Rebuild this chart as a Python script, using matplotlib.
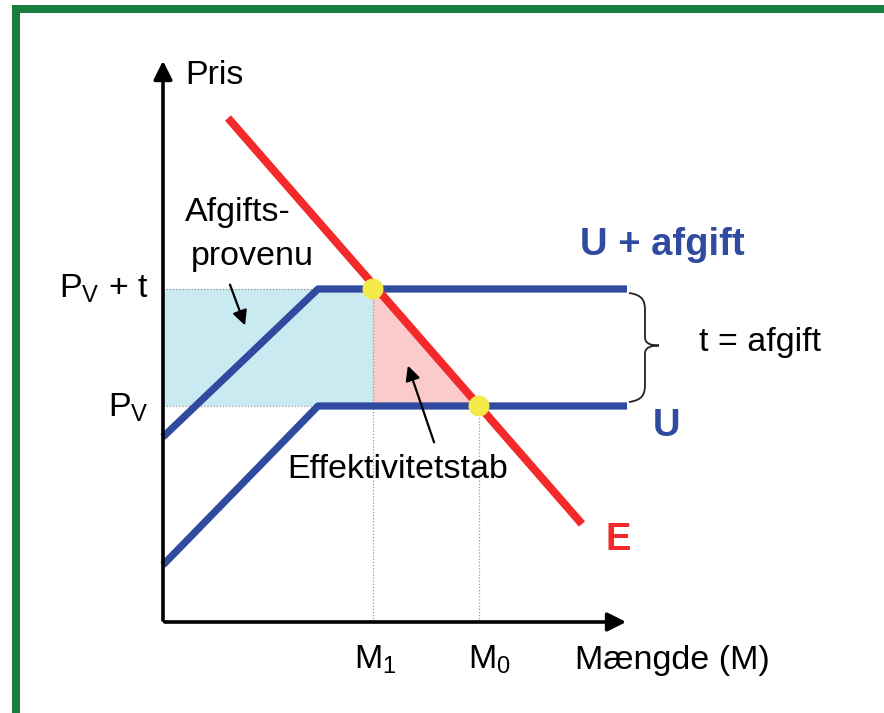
import matplotlib
matplotlib.use("Agg")
import matplotlib.pyplot as plt
import numpy as np
from matplotlib.patches import Rectangle, Polygon, Circle, PathPatch
from matplotlib.path import Path

plt.rcParams['font.family'] = ['Liberation Sans', 'DejaVu Sans']
plt.rcParams['mathtext.fontset'] = 'custom'
plt.rcParams['mathtext.rm'] = 'Liberation Sans'
plt.rcParams['mathtext.it'] = 'Liberation Sans'

# prisniveauer og mængder (aflæst, origo i akse-hjørnet)
pv = 216          # P_V
pv_t = 333        # P_V + t
m1 = 210
m0 = 316
knaek_x = 155
slut_x = 464
u_start = 57
ut_start = 185
e_x = [65, 419]
e_y = [504, 98]

blaa = '#2f4a9e'
roed = '#f42a2a'
gul = '#f3ea4a'
lyseblaa = '#c9eaf0'
lyseroed = '#fbcaca'
groen = '#1a7d40'

fig = plt.figure(figsize=(8.84, 7.13), dpi=100)
ax = fig.add_axes([0, 0, 1, 1])
ax.set_xlim(-163, 721)
ax.set_ylim(-91, 622)
ax.axis('off')

# grøn ramme
ax.add_patch(Rectangle((-147, -93), 1000, 706, fill=False, edgecolor=groen, lw=5.8, zorder=1))

# arealer
ax.add_patch(Rectangle((0, pv), m1, pv_t - pv, facecolor=lyseblaa, edgecolor='none', zorder=1))
ax.add_patch(Polygon([[m1, pv_t], [m1, pv], [m0, pv]], closed=True, facecolor=lyseroed, edgecolor='none', zorder=1))

# stiplede hjælpelinjer
for y in [pv, pv_t]:
    ax.plot([0, m1 if y == pv_t else m0], [y, y], color='#9a9a9a', lw=0.9, ls=(0, (1, 1.5)), zorder=2)
ax.plot([m1, m1], [0, pv_t], color='#9a9a9a', lw=0.9, ls=(0, (1, 1.5)), zorder=2)
ax.plot([m0, m0], [0, pv], color='#9a9a9a', lw=0.9, ls=(0, (1, 1.5)), zorder=2)

# udbudskurver
ax.plot([0, knaek_x, slut_x], [ut_start, pv_t, pv_t], color=blaa, lw=5.2, solid_capstyle='butt', zorder=3)
ax.plot([0, knaek_x, slut_x], [u_start, pv, pv], color=blaa, lw=5.2, solid_capstyle='butt', zorder=3)

# efterspørgsel
ax.plot(e_x, e_y, color=roed, lw=5.8, solid_capstyle='butt', zorder=4)

# ligevægtspunkter
for x, y in [(m1, pv_t), (m0, pv)]:
    ax.add_patch(Circle((x, y), 10.5, facecolor=gul, edgecolor='none', zorder=5))

# akser
ax.annotate('', xy=(0, 564), xytext=(0, -1), arrowprops=dict(arrowstyle='-|>', lw=2.6, color='black', mutation_scale=28), zorder=6)
ax.annotate('', xy=(466, 0), xytext=(-1, 0), arrowprops=dict(arrowstyle='-|>', lw=2.6, color='black', mutation_scale=28), zorder=6)

# klamme
yt, yb = pv_t - 4, pv + 4
ym = (yt + yb) / 2 + 2
x0 = slut_x + 2
v = [(x0, yt), (x0 + 14, yt - 2), (x0 + 16, yt - 8), (x0 + 16, yt - 18),
     (x0 + 16, ym + 8),
     (x0 + 16, ym + 2), (x0 + 22, ym), (x0 + 30, ym),
     (x0 + 22, ym), (x0 + 16, ym - 2), (x0 + 16, ym - 8),
     (x0 + 16, yb + 18),
     (x0 + 16, yb + 8), (x0 + 14, yb + 2), (x0, yb)]
c = [Path.MOVETO, Path.CURVE4, Path.CURVE4, Path.CURVE4, Path.LINETO,
     Path.CURVE4, Path.CURVE4, Path.CURVE4, Path.CURVE4, Path.CURVE4, Path.CURVE4,
     Path.LINETO, Path.CURVE4, Path.CURVE4, Path.CURVE4]
ax.add_patch(PathPatch(Path(v, c), fill=False, edgecolor='#222222', lw=1.3, zorder=6))

# tekster
fs = 24.5
fb = 27.5
ax.text(22, 546, 'Pris', fontsize=fs, ha='left', va='center')
ax.text(-14, 333, r'P$_\mathrm{V}$ + t', fontsize=fs, ha='right', va='center')
ax.text(-14, 214, r'P$_\mathrm{V}$', fontsize=fs, ha='right', va='center')
ax.text(75, 410, 'Afgifts-', fontsize=fs, ha='center', va='center')
ax.text(89, 366, 'provenu', fontsize=fs, ha='center', va='center')
ax.text(499, 377, 'U + afgift', fontsize=fb, ha='center', va='center', color=blaa, fontweight='bold')
ax.text(597, 280, 't = afgift', fontsize=fs, ha='center', va='center')
ax.text(504, 196, 'U', fontsize=fb, ha='center', va='center', color=blaa, fontweight='bold')
ax.text(235, 152, 'Effektivitetstab', fontsize=fs, ha='center', va='center')
ax.text(455, 82, 'E', fontsize=fb, ha='center', va='center', color=roed, fontweight='bold')
ax.text(212, -38, r'M$_\mathrm{1}$', fontsize=fs, ha='center', va='center')
ax.text(326, -38, r'M$_\mathrm{0}$', fontsize=fs, ha='center', va='center')
ax.text(412, -38, 'Mængde (M)', fontsize=fs, ha='left', va='center')

# pile
ax.annotate('', xy=(83, 294), xytext=(66, 340), arrowprops=dict(arrowstyle='-|>', lw=1.6, color='black', mutation_scale=22), zorder=6)
ax.annotate('', xy=(244, 259), xytext=(272, 177), arrowprops=dict(arrowstyle='-|>', lw=1.6, color='black', mutation_scale=22), zorder=6)

fig.savefig('out.png', dpi=100)
